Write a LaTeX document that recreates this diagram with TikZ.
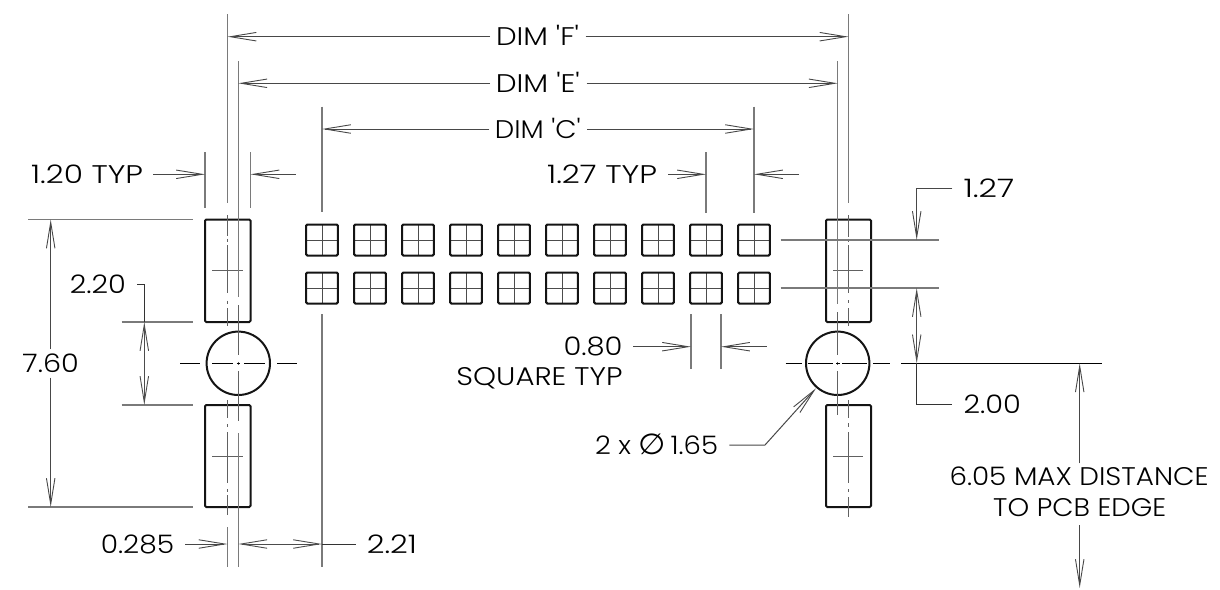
\documentclass[tikz,border=0pt]{standalone}
\usepackage{fontspec}
\usepackage{graphicx}
\newfontfamily\lblfont{Poppins Light}
\newfontfamily\symfont{DejaVu Sans}
\usetikzlibrary{arrows.meta}
\newcommand{\fitw}[2]{\resizebox{#1pt}{\height}{#2}}
\tikzset{
  dimtip/.tip={Straight Barb[length=26pt,width=8.5pt,line width=.9pt]},
  ext/.style={line width=1.1pt,draw=black!52},
  dimln/.style={line width=1pt,draw=black!70,dimtip-dimtip},
  dimr/.style={line width=1pt,draw=black!72,-dimtip},
  lead/.style={line width=1pt,draw=black!80},
  outl/.style={line width=2pt,draw=black!92,rounded corners=1.2pt},
  ctr/.style={line width=1pt,draw=black!62},
  lbl/.style={inner sep=0pt,font=\lblfont\fontsize{25.5}{28}\selectfont,text=black},
}
\begin{document}
\begin{tikzpicture}[x=1pt,y=-1pt]
\useasboundingbox (0,0) rectangle (1220,589);
% pads
\foreach \i in {0,...,9}{
  \foreach \r in {240,288}{
    \draw[ext,line width=.9pt,draw=black!70] ({322+48*\i-15.6},\r) -- ({322+48*\i+15.6},\r) ({322+48*\i},\r-15.5) -- ({322+48*\i},\r+15.5);
    \draw[outl] ({322+48*\i-15.8},\r-15.5) rectangle ({322+48*\i+15.8},\r+15.5);
  }
}
% connector blocks and holes
\draw[outl] (205,219.5) rectangle (250.5,322);
\draw[outl] (205,405) rectangle (250.5,507);
\draw[outl] (826,219.5) rectangle (871,322);
\draw[outl] (826,405) rectangle (871,507);
\draw[line width=2pt,draw=black!92] (238.3,363.3) circle (31.7);
\draw[line width=2pt,draw=black!92] (837.7,363.3) circle (31.7);
% left centre lines
\draw[ctr] (212,270.7) -- (242.7,270.7) (212,456) -- (242.7,456);
\draw[ext] (227.5,14) -- (227.5,203);
\draw[ctr] (227.5,215) -- (227.5,236) (227.5,238.5) -- (227.5,241.5) (227.5,245) -- (227.5,293) (227.5,300.5) -- (227.5,303.5) (227.5,308) -- (227.5,326)
  (227.5,400) -- (227.5,418) (227.5,424) -- (227.5,427) (227.5,432) -- (227.5,483) (227.5,489) -- (227.5,492) (227.5,495) -- (227.5,515);
\draw[ext] (227.5,527) -- (227.5,567);
\draw[ext] (238.3,61) -- (238.3,297);
\draw[ctr] (238.3,305) -- (238.3,355) (238.3,361.5) -- (238.3,365) (238.3,371) -- (238.3,421);
\draw[ext] (238.3,433) -- (238.3,567);
\draw[ctr,draw=black] (180,363.3) -- (200,363.3) (212,363.3) -- (233,363.3) (236.5,363.3) -- (240,363.3) (244,363.3) -- (265,363.3) (277,363.3) -- (297,363.3);
% right centre lines
\draw[ctr] (833,270.7) -- (863,270.7) (833,456) -- (863,456);
\draw[ext] (848.5,14) -- (848.5,203);
\draw[ctr] (848.5,215) -- (848.5,237) (848.5,238.5) -- (848.5,241.5) (848.5,245) -- (848.5,293) (848.5,300) -- (848.5,303) (848.5,308) -- (848.5,326)
  (848.5,400) -- (848.5,418) (848.5,423) -- (848.5,427) (848.5,432) -- (848.5,483) (848.5,489) -- (848.5,492) (848.5,497) -- (848.5,517);
\draw[ext] (837.7,61) -- (837.7,304);
\draw[ctr] (837.7,312) -- (837.7,355) (837.7,361.5) -- (837.7,365) (837.7,371) -- (837.7,415);
\draw[ctr,draw=black] (785.7,363.3) -- (801.7,363.3) (808,363.3) -- (833,363.3) (836,363.3) -- (839.5,363.3) (842,363.3) -- (867,363.3) (873,363.3) -- (890,363.3);
\draw[lead,draw=black] (901.3,363.3) -- (1102.3,363.3);
% extension lines
\draw[ext] (205,152) -- (205,208) (250.5,152) -- (250.5,208);
\draw[ext] (322,106.7) -- (322,212) (322,314) -- (322,567);
\draw[ext] (706,152) -- (706,213) (754,106.7) -- (754,213);
\draw[ext] (691,314) -- (691,369) (721,314) -- (721,369);
\draw[ext] (28.3,219.5) -- (193.3,219.5) (28.3,507) -- (193.3,507);
\draw[ext] (121.7,322) -- (193.3,322) (121.7,405) -- (193.3,405);
\draw[ext] (780.7,240) -- (939,240) (780.7,288) -- (939,288);
% dimension arrows
\draw[dimr] (490,36.7) -- (227.5,36.7);
\draw[dimr] (585.7,36.7) -- (848.5,36.7);
\draw[dimr] (490,83.3) -- (238.3,83.3);
\draw[dimr] (586.7,83.3) -- (837.7,83.3);
\draw[dimr] (489.3,129) -- (322,129);
\draw[dimr] (587,129) -- (754,129);
\draw[dimr] (153,174.3) -- (205,174.3);
\draw[dimr] (295.7,174.3) -- (250.5,174.3);
\draw[dimr] (668,174.3) -- (706,174.3);
\draw[dimr] (799,174.3) -- (754,174.3);
\draw[dimr] (633.3,346.7) -- (691,346.7);
\draw[dimr] (766.7,346.7) -- (721,346.7);
\draw[dimr] (50.7,349) -- (50.7,219.5);
\draw[dimr] (50.7,377.7) -- (50.7,507);
\draw[lead] (137,284.3) -- (144.3,284.3) -- (144.3,322);
\draw[dimln] (144.3,322) -- (144.3,405);
\draw[dimr] (952.3,188.3) -- (916.7,188.3) -- (916.7,240);
\draw[dimln] (916.7,288) -- (916.7,363.3);
\draw[lead] (916.7,363.3) -- (916.7,404.7) -- (952.3,404.7);
\draw[dimr] (1079.7,463.3) -- (1079.7,363.3);
\draw[dimr] (1079.7,525) -- (1079.7,588);
\draw[dimr] (185,544) -- (227.5,544);
\draw[dimln] (238.3,544) -- (322,544);
\draw[lead] (322,544) -- (356,544);
\draw[dimr] (729.3,445) -- (765,445) -- (816,388.3);
% labels
\node[lbl,anchor=base] (dimf) at (537.5,45) {\fitw{83}{DIM 'F'}};
\node[lbl,anchor=base] (dime) at (537.8,92.3) {\fitw{84}{DIM 'E'}};
\node[lbl,anchor=base] (dimc) at (537.8,138) {\fitw{85.7}{DIM 'C'}};
\node[lbl,anchor=base east] (t120) at (143.3,183.3) {\fitw{112}{1.20 TYP}};
\node[lbl,anchor=base east] (t127) at (657.3,183.3) {\fitw{110}{1.27 TYP}};
\node[lbl,anchor=base west] (n127) at (963.3,197.7) {\fitw{50.7}{1.27}};
\node[lbl,anchor=base east] (n220) at (126,293.3) {\fitw{56}{2.20}};
\node[lbl,anchor=base east] (n760) at (79,372.7) {\fitw{56.3}{7.60}};
\node[lbl,anchor=base east] (n080) at (622.7,355.7) {\fitw{59}{0.80}};
\node[lbl,anchor=base east] (nsq) at (622.7,385) {\fitw{166}{SQUARE TYP}};
\node[lbl,anchor=base east] (ndia) at (718.3,454.3) {\fitw{123}{2 x {\symfont\fontsize{29}{30}\selectfont ∅}\,1.65}};
\node[lbl,anchor=base west] (n200) at (963.3,413.3) {\fitw{57.3}{2.00}};
\node[lbl,anchor=base west] (n605) at (949.3,485.7) {\fitw{259}{6.05 MAX DISTANCE}};
\node[lbl,anchor=base west] (npcb) at (993,516) {\fitw{173}{TO PCB EDGE}};
\node[lbl,anchor=base east] (n285) at (174.3,553.3) {\fitw{73.3}{0.285}};
\node[lbl,anchor=base west] (n221) at (366.7,553.3) {\fitw{50}{2.21}};
\end{tikzpicture}
\end{document}
